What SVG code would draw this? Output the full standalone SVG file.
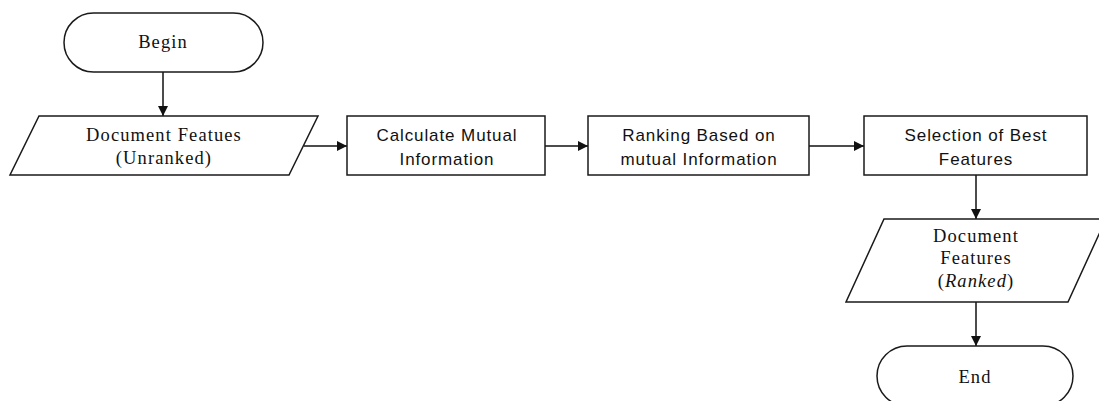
<svg xmlns="http://www.w3.org/2000/svg" width="1099" height="401" viewBox="0 0 1099 401">
<style>
.shape{fill:#fff;stroke:#1a1a1a;stroke-width:1.5}
.serif{font-family:"Liberation Serif","Times New Roman",serif;font-size:18.5px;fill:#111;text-anchor:middle;letter-spacing:1.1px}
.sans{font-family:"Liberation Sans",Arial,sans-serif;font-size:17px;fill:#111;text-anchor:middle;letter-spacing:0.9px}
.conn{stroke:#111;stroke-width:1.5;fill:none;marker-end:url(#arrow)}
</style>
<defs>
<marker id="arrow" viewBox="0 0 10 10" refX="10" refY="5" markerWidth="10" markerHeight="10" markerUnits="userSpaceOnUse" orient="auto">
<path d="M0,0 L10,5 L0,10 Z" fill="#111"/>
</marker>
</defs>
<rect width="1099" height="401" fill="#fff"/>
<g id="connectors">
<line class="conn" x1="163" y1="72" x2="163" y2="116"/>
<line class="conn" x1="304" y1="146" x2="347" y2="146"/>
<line class="conn" x1="545" y1="146" x2="588" y2="146"/>
<line class="conn" x1="809" y1="146" x2="864" y2="146"/>
<line class="conn" x1="976" y1="175" x2="976" y2="219"/>
<line class="conn" x1="976" y1="302" x2="976" y2="346"/>
</g>
<g id="begin">
<rect class="shape" x="64" y="13" width="199" height="59" rx="29.5"/>
<text class="serif" x="163" y="48">Begin</text>
</g>
<g id="doc-unranked">
<polygon class="shape" points="39,116 318,116 289,175 10,175"/>
<text class="serif" x="164" y="141">Document Featues</text>
<text class="serif" x="164" y="164">(Unranked)</text>
</g>
<g id="calc-mi">
<rect class="shape" x="347" y="116" width="198" height="59"/>
<text class="sans" x="447" y="141">Calculate Mutual</text>
<text class="sans" x="447" y="165">Information</text>
</g>
<g id="ranking">
<rect class="shape" x="588" y="116" width="221" height="59"/>
<text class="sans" x="699" y="141">Ranking Based on</text>
<text class="sans" x="699" y="165">mutual Information</text>
</g>
<g id="selection">
<rect class="shape" x="864" y="116" width="223" height="59"/>
<text class="sans" x="976" y="141">Selection of Best</text>
<text class="sans" x="976" y="165">Features</text>
</g>
<g id="doc-ranked">
<polygon class="shape" points="884,219 1106,219 1068,302 846,302"/>
<text class="serif" x="976" y="242">Document</text>
<text class="serif" x="976" y="264">Features</text>
<text class="serif" x="976" y="287">(<tspan font-style="italic">Ranked</tspan>)</text>
</g>
<g id="end">
<rect class="shape" x="877" y="346" width="196" height="60" rx="30"/>
<text class="serif" x="975" y="383">End</text>
</g>
</svg>
